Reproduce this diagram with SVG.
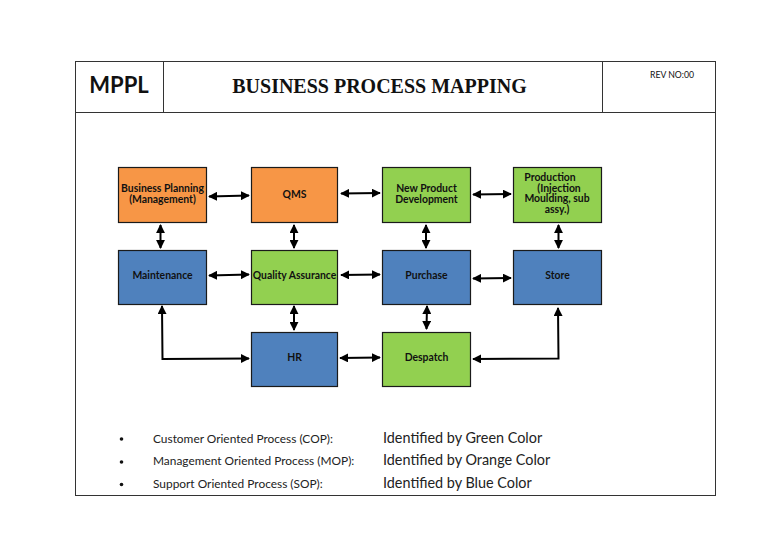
<svg xmlns="http://www.w3.org/2000/svg" width="768" height="543" viewBox="0 0 768 543">
<defs>
<marker id="ah" viewBox="0 0 10 10" refX="9" refY="5" markerWidth="4.5" markerHeight="4.5" orient="auto-start-reverse" markerUnits="strokeWidth">
<path d="M0,0 L10,5 L0,10 Z" fill="#000"/>
</marker>
<style>
.frame{fill:none;stroke:#333;stroke-width:1}
.box{stroke:#1a1a1a;stroke-width:1.2}
.o{fill:#F79646}.g{fill:#92D050}.b{fill:#4F81BD}
.lbl{font-family:Lato,"Liberation Sans",sans-serif;font-size:10.4px;font-weight:bold;fill:#111;text-anchor:middle}
.c{fill:none;stroke:#000;stroke-width:2;marker-start:url(#ah);marker-end:url(#ah)}
.leg{font-family:Lato,"Liberation Sans",sans-serif;font-size:11.9px;fill:#222}
.leg2{font-family:Lato,"Liberation Sans",sans-serif;font-size:14.4px;fill:#222}
</style>
</defs>
<rect width="768" height="543" fill="#fff"/>
<g id="frame">
<rect class="frame" x="75.5" y="61.5" width="640" height="434"/>
<line class="frame" x1="75" y1="112.5" x2="715" y2="112.5"/>
<line class="frame" x1="163.5" y1="61" x2="163.5" y2="112"/>
<line class="frame" x1="602.5" y1="61" x2="602.5" y2="112"/>
<text x="119" y="93" font-family="Lato,'Liberation Sans',sans-serif" font-size="22" font-weight="bold" text-anchor="middle" fill="#111">MPPL</text>
<text x="379.5" y="93" font-family="'Liberation Serif',serif" font-size="20" font-weight="bold" text-anchor="middle" fill="#111">BUSINESS PROCESS MAPPING</text>
<text x="672" y="78" font-family="Lato,'Liberation Sans',sans-serif" font-size="8.7" text-anchor="middle" fill="#111">REV NO:00</text>
</g>
<g id="connectors">
<line class="c" x1="209" y1="196.5" x2="249" y2="195.5"/>
<line class="c" x1="341" y1="193.5" x2="380" y2="193"/>
<line class="c" x1="473" y1="194.5" x2="511" y2="194"/>
<line class="c" x1="160.5" y1="225" x2="160.5" y2="248"/>
<line class="c" x1="294" y1="225" x2="294" y2="248"/>
<line class="c" x1="426" y1="225" x2="426" y2="248"/>
<line class="c" x1="558.5" y1="225" x2="558.5" y2="248"/>
<line class="c" x1="209" y1="275.5" x2="249" y2="274.5"/>
<line class="c" x1="341" y1="275" x2="380" y2="274.5"/>
<line class="c" x1="473" y1="278.5" x2="511" y2="278"/>
<line class="c" x1="294" y1="306" x2="294" y2="330"/>
<line class="c" x1="427" y1="306" x2="426.5" y2="329"/>
<line class="c" x1="340" y1="358" x2="380" y2="357.5"/>
<polyline class="c" points="162,306 162.5,359 249,358.5"/>
<polyline class="c" points="558,308 558.5,358.5 473,359"/>
</g>
<g id="bp"><rect class="box o" x="118.5" y="167.5" width="88" height="55"/><text class="lbl" x="162.5" y="192">Business Planning</text><text class="lbl" x="162.5" y="203">(Management)</text></g>
<g id="qms"><rect class="box o" x="251.5" y="167.5" width="86" height="55"/><text class="lbl" x="294.5" y="198">QMS</text></g>
<g id="npd"><rect class="box g" x="382.5" y="167.5" width="88" height="55"/><text class="lbl" x="426.5" y="192">New Product</text><text class="lbl" x="426.5" y="203">Development</text></g>
<g id="production"><rect class="box g" x="513.5" y="167.5" width="88" height="55"/><text class="lbl" x="550" y="181">Production</text><text class="lbl" x="559" y="191.7">(Injection</text><text class="lbl" x="557" y="202.4">Moulding, sub</text><text class="lbl" x="557" y="213">assy.)</text></g>
<g id="maintenance"><rect class="box b" x="118.5" y="250.5" width="88" height="54"/><text class="lbl" x="162.5" y="279">Maintenance</text></g>
<g id="qa"><rect class="box g" x="251.5" y="250.5" width="86" height="54"/><text class="lbl" x="294.5" y="279">Quality Assurance</text></g>
<g id="purchase"><rect class="box b" x="382.5" y="250.5" width="88" height="54"/><text class="lbl" x="426.5" y="279">Purchase</text></g>
<g id="store"><rect class="box b" x="513.5" y="250.5" width="88" height="54"/><text class="lbl" x="557.5" y="279">Store</text></g>
<g id="hr"><rect class="box b" x="251.5" y="332.5" width="86" height="54"/><text class="lbl" x="294.5" y="361">HR</text></g>
<g id="despatch"><rect class="box g" x="382.5" y="332.5" width="88" height="54"/><text class="lbl" x="426.5" y="361">Despatch</text></g>
<g id="legend">
<circle cx="121.5" cy="439" r="1.8" fill="#111"/>
<circle cx="121.5" cy="462" r="1.8" fill="#111"/>
<circle cx="121.5" cy="484.5" r="1.8" fill="#111"/>
<text class="leg" x="153" y="442.5">Customer Oriented Process (COP):</text>
<text class="leg" x="153" y="465">Management Oriented Process (MOP):</text>
<text class="leg" x="153" y="487.5">Support Oriented Process (SOP):</text>
<text class="leg2" x="383" y="442.5">Identified by Green Color</text>
<text class="leg2" x="383" y="465">Identified by Orange Color</text>
<text class="leg2" x="383" y="488">Identified by Blue Color</text>
</g>
</svg>
